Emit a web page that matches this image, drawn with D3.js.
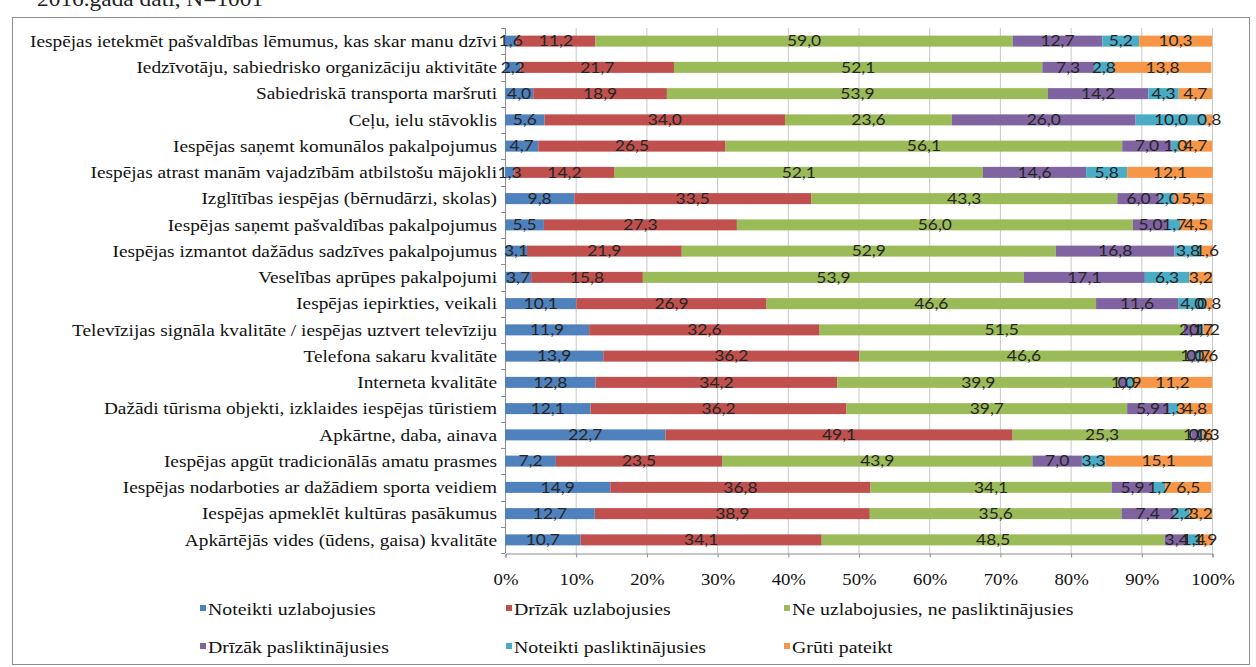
<!DOCTYPE html>
<html><head><meta charset="utf-8">
<script src="https://cdn.jsdelivr.net/npm/d3@7"></script>
<style>body{margin:0;background:#fff}svg{display:block}</style>
</head><body>
<svg id="c" width="1256" height="667"></svg>
<script>
const categories = [
 "Iespējas ietekmēt pašvaldības lēmumus, kas skar manu dzīvi",
 "Iedzīvotāju, sabiedrisko organizāciju aktivitāte",
 "Sabiedriskā transporta maršruti",
 "Ceļu, ielu stāvoklis",
 "Iespējas saņemt komunālos pakalpojumus",
 "Iespējas atrast manām vajadzībām atbilstošu mājokli",
 "Izglītības iespējas (bērnudārzi, skolas)",
 "Iespējas saņemt pašvaldības pakalpojumus",
 "Iespējas izmantot dažādus sadzīves pakalpojumus",
 "Veselības aprūpes pakalpojumi",
 "Iespējas iepirkties, veikali",
 "Televīzijas signāla kvalitāte / iespējas uztvert televīziju",
 "Telefona sakaru kvalitāte",
 "Interneta kvalitāte",
 "Dažādi tūrisma objekti, izklaides iespējas tūristiem",
 "Apkārtne, daba, ainava",
 "Iespējas apgūt tradicionālās amatu prasmes",
 "Iespējas nodarboties ar dažādiem sporta veidiem",
 "Iespējas apmeklēt kultūras pasākumus",
 "Apkārtējās vides (ūdens, gaisa) kvalitāte"
];
const seriesNames = ["Noteikti uzlabojusies","Drīzāk uzlabojusies","Ne uzlabojusies, ne pasliktinājusies","Drīzāk pasliktinājusies","Noteikti pasliktinājusies","Grūti pateikt"];
const noteiktiUzlabojusies = [1.6,2.2,4.0,5.6,4.7,1.3,9.8,5.5,3.1,3.7,10.1,11.9,13.9,12.8,12.1,22.7,7.2,14.9,12.7,10.7];
const drizakUzlabojusies   = [11.2,21.7,18.9,34.0,26.5,14.2,33.5,27.3,21.9,15.8,26.9,32.6,36.2,34.2,36.2,49.1,23.5,36.8,38.9,34.1];
const neUzlabojusies       = [59.0,52.1,53.9,23.6,56.1,52.1,43.3,56.0,52.9,53.9,46.6,51.5,46.6,39.9,39.7,25.3,43.9,34.1,35.6,48.5];
const drizakPasliktinajusies = [12.7,7.3,14.2,26.0,7.0,14.6,6.0,5.0,16.8,17.1,11.6,2.1,1.0,1.0,5.9,1.0,7.0,5.9,7.4,3.4];
const noteiktiPasliktinajusies = [5.2,2.8,4.3,10.0,1.0,5.8,2.0,1.7,3.8,6.3,4.0,0.7,0.7,0.9,1.3,0.6,3.3,1.7,2.2,1.4];
const grutiPateikt = [10.3,13.8,4.7,0.8,4.7,12.1,5.5,4.5,1.6,3.2,0.8,1.2,1.6,11.2,4.8,1.3,15.1,6.5,3.2,1.9];
const tickValues = [0,10,20,30,40,50,60,70,80,90,100];
const colors = ["#4F81BD","#C0504D","#9BBB59","#8064A2","#4BACC6","#F79646"];

const seriesValues = [noteiktiUzlabojusies,drizakUzlabojusies,neUzlabojusies,drizakPasliktinajusies,noteiktiPasliktinajusies,grutiPateikt];
const rows = categories.map((c,i)=>{const o={cat:c}; seriesNames.forEach((s,j)=>o[s]=seriesValues[j][i]); return o;});
const stacked = d3.stack().keys(seriesNames)(rows);

const svg = d3.select("#c");
const serif = "'Liberation Serif','Times New Roman',serif";
const sans = "Lato,'Open Sans',sans-serif";
const SX = 1.17;

// top cut-off caption
svg.append("text").attr("transform","translate(37,6) scale(1.17,1)").attr("font-family",serif).attr("font-size",20).attr("fill","#222").text("2016.gada dati, N=1001");

// frame
svg.append("rect").attr("x",12.5).attr("y",17.5).attr("width",1237).attr("height",647).attr("fill","#fff").attr("stroke","#8c8c8c");

const x = d3.scaleLinear().domain([0,100]).range([505,1212]);
const y = d3.scaleBand().domain(categories).range([28,553]).paddingInner(0.58).paddingOuter(0.29);

// gridlines
svg.append("g").selectAll("line").data(tickValues).join("line")
 .attr("x1",d=>x(d)+0.5).attr("x2",d=>x(d)+0.5).attr("y1",28).attr("y2",553)
 .attr("stroke",d=>d===0?"#8c8c8c":"#c8c8c8").attr("stroke-width",1);

// x axis
const xAxis = svg.append("g").attr("transform","translate(0.5,553.5)")
 .call(d3.axisBottom(x).tickValues(tickValues).tickSize(4).tickFormat(d=>d+"%"));
xAxis.select(".domain").attr("stroke","#8c8c8c");
xAxis.selectAll(".tick line").attr("stroke","#8c8c8c");
xAxis.selectAll(".tick text").attr("font-family",serif).attr("font-size",16).attr("fill","#111")
 .attr("y",0).attr("dy",0).attr("transform",`translate(0,31) scale(${SX},1)`);

// y axis ticks (category boundaries)
const bounds = d3.range(categories.length+1).map(i=>28+i*(525/categories.length));
svg.append("g").selectAll("line").data(bounds).join("line")
 .attr("x1",501).attr("x2",505).attr("y1",d=>Math.round(d)+0.5).attr("y2",d=>Math.round(d)+0.5).attr("stroke","#8c8c8c");

// category labels
svg.append("g").selectAll("text").data(categories).join("text")
 .attr("transform",d=>`translate(497,${y(d)+y.bandwidth()/2}) scale(${SX},1)`).attr("dy","0.35em")
 .attr("text-anchor","end").attr("font-family",serif).attr("font-size",16.5).attr("fill","#111").text(d=>d);

// bars
const fmt = v => d3.format(".1f")(v).replace(".",",");
const g = svg.append("g").selectAll("g").data(stacked).join("g").attr("fill",(d,i)=>colors[i]);
g.selectAll("rect").data(d=>d).join("rect")
 .attr("x",d=>x(d[0])).attr("width",d=>x(d[1])-x(d[0]))
 .attr("y",d=>y(d.data.cat)).attr("height",y.bandwidth());

const lg = svg.append("g").selectAll("g").data(stacked).join("g");
lg.selectAll("text").data(d=>d.map(p=>({p,key:d.key}))).join("text")
 .attr("transform",d=>`translate(${(x(d.p[0])+x(d.p[1]))/2},${y(d.p.data.cat)+y.bandwidth()/2}) scale(1.2,1)`).attr("dy","0.36em")
 .attr("text-anchor","middle").attr("font-family",sans).attr("font-size",14.5).attr("fill","#262626")
 .text(d=>fmt(d.p.data[d.key]));

// legend
const legX = [200,506,784], legY = [609,647];
const leg = svg.append("g").selectAll("g").data(seriesNames).join("g")
 .attr("transform",(d,i)=>`translate(${legX[i%3]},${legY[Math.floor(i/3)]})`);
leg.append("rect").attr("x",0).attr("y",-4).attr("width",6).attr("height",6).attr("fill",(d,i)=>colors[i]);
leg.append("text").attr("transform",`translate(8,0) scale(1.2,1)`).attr("dy","0.35em").attr("font-family",serif).attr("font-size",16.5).attr("fill","#111").text(d=>d);
</script>
</body></html>
